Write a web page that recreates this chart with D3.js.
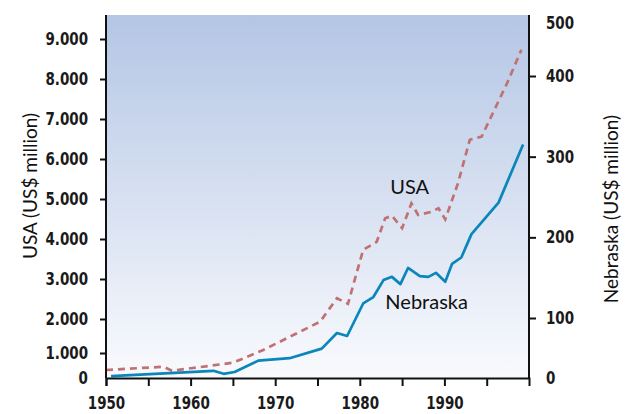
<!DOCTYPE html>
<meta charset="utf-8">
<html lang="en">
<head>
    <script src="https://d3js.org/d3.v7.min.js"></script>
    <title>USA and Nebraska</title>
    <style>
        body { margin: 0; background: #fff; }
        .tick text { font-family: "DejaVu Sans Condensed", "DejaVu Sans", sans-serif; font-size: 17px; font-weight: bold; fill: #1a1a1a; }
        .title { font-family: Lato, "Open Sans", sans-serif; font-size: 19px; fill: #111; }
    </style>
</head>
<body>
    <svg></svg>
</body>
</html>
<script>
    let width = 633, height = 414;

    // years and values
    const usaYears = [1950, 1956.8, 1957.8, 1965, 1968.6, 1975.3, 1977.3, 1978.6, 1980.4, 1982, 1983, 1983.8, 1985, 1986.1, 1986.9, 1988.5, 1989.3, 1990.1, 1991.6, 1993, 1994.4, 1996, 1997.4, 1999.1];
    const usaValues = [320, 450, 290, 610, 1090, 1920, 2520, 2380, 3730, 3930, 4520, 4580, 4270, 4890, 4600, 4680, 4770, 4490, 5390, 6480, 6560, 7270, 7890, 8730];

    const nebYears = [1950.6, 1962.7, 1963.9, 1965.2, 1968, 1971.7, 1975.5, 1977.3, 1978.5, 1980.4, 1981.6, 1982.8, 1983.8, 1984.8, 1985.7, 1987.1, 1988.1, 1989, 1990.1, 1990.9, 1992, 1993.2, 1996.4, 1999.3];
    const nebValues = [3, 12, 7, 10, 29, 33, 49, 75, 70, 118, 126, 147, 151, 142, 162, 152, 151, 156, 145, 167, 175, 204, 243, 315];

    const xTicks = [1950, 1955, 1960, 1965, 1970, 1975, 1980, 1985, 1990, 1995];
    const usaTicks = [0, 1000, 2000, 3000, 4000, 5000, 6000, 7000, 8000, 9000];
    const nebTicks = [0, 100, 200, 300, 400, 500];

    let margin = { left: 106, right: 529, top: 15, bottom: 378 };

    let svg = d3.select("svg").attr("width", width).attr("height", height);

    let x = d3.scaleLinear().domain([1950, 2000]).range([margin.left, margin.right]);
    // the axes are squeezed near zero in the original
    let yUsa = d3.scaleLinear().domain([0, 1000, 2000, 9000]).range([378, 353, 319, 39]);
    let yNeb = d3.scaleLinear().domain([0, 100, 400, 500]).range([378, 318, 76, 23]);

    let grad = svg.append("defs").append("linearGradient")
        .attr("id", "bg").attr("x1", 0).attr("y1", 0).attr("x2", 0).attr("y2", 1);
    grad.append("stop").attr("offset", "0%").attr("stop-color", "#b4c6e5");
    grad.append("stop").attr("offset", "100%").attr("stop-color", "#f9fafd");

    svg.append("rect")
        .attr("x", margin.left).attr("y", margin.top)
        .attr("width", margin.right - margin.left)
        .attr("height", margin.bottom - margin.top)
        .attr("fill", "url(#bg)");

    let usaData = usaYears.map((yr, i) => ({ year: yr, value: usaValues[i] }));
    let nebData = nebYears.map((yr, i) => ({ year: yr, value: nebValues[i] }));

    svg.append("path")
        .datum(usaData)
        .attr("fill", "none")
        .attr("stroke", "#c07272")
        .attr("stroke-width", 2.7)
        .attr("stroke-dasharray", "7,5")
        .attr("d", d3.line().x((d) => x(d.year)).y((d) => yUsa(d.value)));

    svg.append("path")
        .datum(nebData)
        .attr("fill", "none")
        .attr("stroke", "#0a86bb")
        .attr("stroke-width", 2.7)
        .attr("stroke-linejoin", "round")
        .attr("d", d3.line().x((d) => x(d.year)).y((d) => yNeb(d.value)));

    // axes
    let xAxis = svg.append("g")
        .attr("transform", `translate(0,${margin.bottom})`)
        .call(d3.axisBottom(x).tickValues(xTicks).tickSize(8).tickPadding(11)
            .tickFormat((d) => d % 10 == 0 ? d : ""));
    xAxis.select(".domain").attr("stroke", "#111").attr("stroke-width", 2);
    xAxis.selectAll(".tick line").attr("stroke", "#111").attr("stroke-width", 2);

    let leftAxis = svg.append("g")
        .attr("transform", `translate(${margin.left},0)`)
        .call(d3.axisLeft(yUsa).tickValues(usaTicks).tickSize(6).tickPadding(12)
            .tickFormat((d) => d == 0 ? "0" : d3.format(",")(d).replace(",", ".")));
    leftAxis.select(".domain").attr("d", `M0,${margin.top}V${margin.bottom}`).attr("stroke", "#111").attr("stroke-width", 2);
    leftAxis.selectAll(".tick line").attr("stroke", "#111").attr("stroke-width", 2)
        .filter((d) => d == 0).remove();

    let rightAxis = svg.append("g")
        .attr("transform", `translate(${margin.right},0)`)
        .call(d3.axisRight(yNeb).tickValues(nebTicks).tickSize(7).tickPadding(10));
    rightAxis.select(".domain").attr("d", `M0,${margin.top}V${margin.bottom}`).attr("stroke", "#111").attr("stroke-width", 2);
    rightAxis.selectAll(".tick line").attr("stroke", "#111").attr("stroke-width", 2)
        .filter((d) => d == 0 || d == 500).remove();

    // narrow the tick labels, the original uses a condensed face
    svg.selectAll(".tick text")
        .attr("lengthAdjust", "spacingAndGlyphs")
        .attr("textLength", function () {
            let w = this.getComputedTextLength();
            return w > 0 ? w * 0.88 : null;
        });

    // titles
    svg.append("text")
        .attr("class", "title")
        .attr("transform", "translate(37,186) rotate(-90)")
        .attr("text-anchor", "middle")
        .text("USA (US$ million)");

    svg.append("text")
        .attr("class", "title")
        .attr("transform", "translate(618,209) rotate(-90)")
        .attr("text-anchor", "middle")
        .text("Nebraska (US$ million)");

    svg.append("text")
        .attr("class", "title")
        .attr("x", x(1985.9)).attr("y", yUsa(5120))
        .attr("text-anchor", "middle")
        .style("font-size", "20px")
        .text("USA");

    svg.append("text")
        .attr("class", "title")
        .attr("x", x(1987.9)).attr("y", yNeb(111))
        .attr("text-anchor", "middle")
        .style("font-size", "20px")
        .text("Nebraska");
</script>
